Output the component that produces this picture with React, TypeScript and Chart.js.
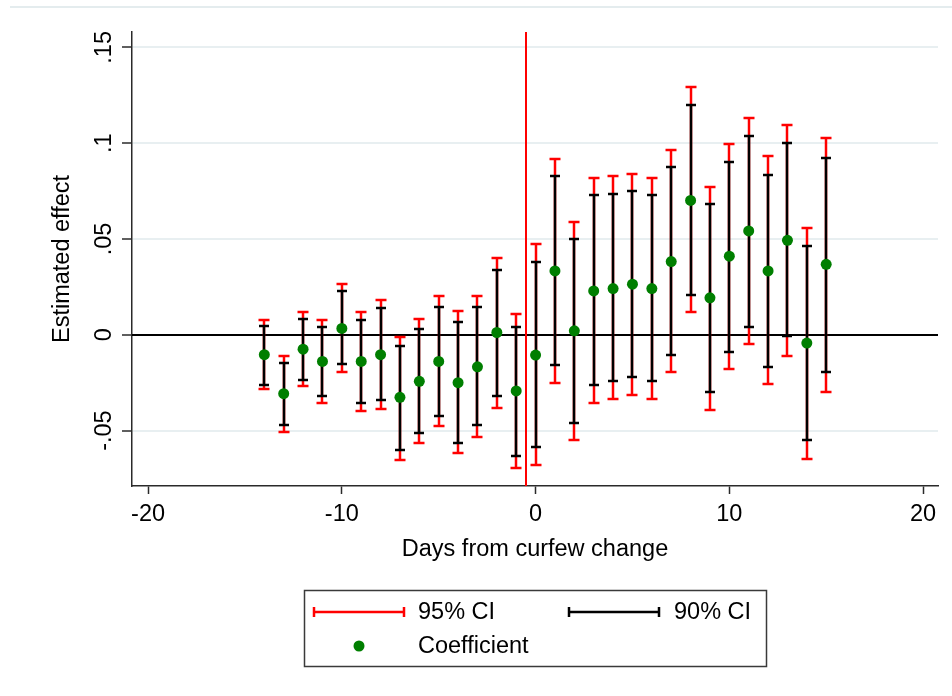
import React, { useEffect, useRef } from "react";
import { Chart, registerables } from "chart.js";

Chart.register(...registerables);

// ---------- data ----------
const days = [-14, -13, -12, -11, -10, -9, -8, -7, -6, -5, -4, -3, -2, -1, 0, 1, 2, 3, 4, 5, 6, 7, 8, 9, 10, 11, 12, 13, 14, 15];

const coef = [-0.0104, -0.0307, -0.0075, -0.0139, 0.0033, -0.0139, -0.0104, -0.0326, -0.0243, -0.0139, -0.025, -0.0167, 0.0012, -0.0293, -0.0106, 0.0333, 0.0021, 0.0229, 0.0241, 0.0264, 0.0241, 0.0382, 0.0701, 0.0193, 0.041, 0.0542, 0.0333, 0.0493, -0.0043, 0.0368];

const ci95Hi = [0.0075, -0.0113, 0.0118, 0.0075, 0.0266, 0.0118, 0.0179, -0.0009, 0.0082, 0.0201, 0.0123, 0.0201, 0.0403, 0.0109, 0.0472, 0.0917, 0.059, 0.0818, 0.0826, 0.0839, 0.0818, 0.0965, 0.1292, 0.0771, 0.0993, 0.113, 0.0931, 0.1097, 0.0556, 0.1028];

const ci90Hi = [0.0047, -0.0147, 0.0083, 0.0042, 0.0229, 0.0076, 0.0139, -0.0061, 0.0028, 0.0146, 0.0068, 0.0146, 0.0339, 0.0042, 0.0382, 0.0826, 0.05, 0.0729, 0.0736, 0.0752, 0.0729, 0.0875, 0.1201, 0.068, 0.0903, 0.1035, 0.0833, 0.1002, 0.0465, 0.0924];

const ci90Lo = [-0.026, -0.0472, -0.0236, -0.0321, -0.0155, -0.0356, -0.034, -0.0599, -0.0514, -0.0424, -0.0563, -0.0472, -0.0319, -0.0634, -0.0585, -0.016, -0.0458, -0.0264, -0.0243, -0.0222, -0.0243, -0.0106, 0.0208, -0.03, -0.009, 0.0042, -0.0167, -0.0007, -0.0549, -0.0194];

const ci95Lo = [-0.0283, -0.0507, -0.0269, -0.0356, -0.0194, -0.0398, -0.0387, -0.0653, -0.0563, -0.0477, -0.0618, -0.0533, -0.0382, -0.0696, -0.0677, -0.025, -0.0549, -0.0354, -0.0333, -0.0313, -0.0333, -0.0196, 0.0118, -0.039, -0.0181, -0.0049, -0.0257, -0.0111, -0.0646, -0.0299];

const xTickValues = [-20, -10, 0, 10, 20];
const xTickLabels = ["-20", "-10", "0", "10", "20"];
const yTickValues = [-0.05, 0, 0.05, 0.1, 0.15];
const yTickLabels = ["-.05", "0", ".05", ".1", ".15"];
const eventDay = -0.5;
const xTitle = "Days from curfew change";
const yTitle = "Estimated effect";
const legendLabels = ["95% CI", "90% CI", "Coefficient"];

// ---------- styles ----------
const FONT = '"Liberation Sans", Arial, sans-serif';
const FS = 23.5;
const AXIS = "#2a2a2a";
const GRID = "#e8eff1";
const RED = "#ff0000";
const GREEN = "#007f00";
const BAR_W = 2.5;

export default function App() {
  const ref = useRef<HTMLCanvasElement>(null);

  useEffect(() => {
    const canvas = ref.current;
    if (!canvas) return;

    const seg = (ctx: CanvasRenderingContext2D, x1: number, y1: number, x2: number, y2: number) => {
      ctx.beginPath();
      ctx.moveTo(x1, y1);
      ctx.lineTo(x2, y2);
      ctx.stroke();
    };

    const decor = {
      id: "stataDecor",
      beforeDatasetsDraw(chart: any) {
        const { ctx, chartArea: a } = chart;
        const xs = chart.scales.x;
        const ys = chart.scales.y;
        ctx.save();
        ctx.lineCap = "butt";
        // zero reference line
        const y0 = Math.round(ys.getPixelForValue(0));
        ctx.strokeStyle = "#000";
        ctx.lineWidth = 2;
        seg(ctx, a.left, y0, a.right, y0);

        const bar = (px: number, lo: number, hi: number, color: string, cap: number) => {
          const pl = Math.round(ys.getPixelForValue(lo));
          const ph = Math.round(ys.getPixelForValue(hi));
          ctx.strokeStyle = color;
          ctx.lineWidth = BAR_W;
          seg(ctx, px, pl, px, ph);
          seg(ctx, px - cap / 2, pl, px + cap / 2, pl);
          seg(ctx, px - cap / 2, ph, px + cap / 2, ph);
        };
        for (let i = 0; i < days.length; i++) {
          const px = Math.round(xs.getPixelForValue(days[i]));
          bar(px, ci95Lo[i], ci95Hi[i], RED, 11);
        }
        for (let i = 0; i < days.length; i++) {
          const px = Math.round(xs.getPixelForValue(days[i]));
          bar(px, ci90Lo[i], ci90Hi[i], "#000", 10);
        }
        // event line
        const xe = Math.round(xs.getPixelForValue(eventDay));
        ctx.strokeStyle = RED;
        ctx.lineWidth = 2;
        seg(ctx, xe, a.top, xe, a.bottom);
        ctx.restore();
      },
      afterDraw(chart: any) {
        const { ctx } = chart;
        const ys = chart.scales.y;
        ctx.save();
        // faint outer frame line at top
        ctx.strokeStyle = "#e4ecee";
        ctx.lineWidth = 2;
        seg(ctx, 10, 7, 952, 7);

        // rotated y tick labels
        ctx.fillStyle = "#000";
        ctx.font = `${FS}px ${FONT}`;
        ctx.textAlign = "center";
        ctx.textBaseline = "alphabetic";
        for (let i = 0; i < yTickValues.length; i++) {
          const py = ys.getPixelForValue(yTickValues[i]);
          ctx.save();
          ctx.translate(111, py);
          ctx.rotate(-Math.PI / 2);
          ctx.fillText(yTickLabels[i], 0, 0);
          ctx.restore();
        }

        // legend box
        ctx.strokeStyle = "#3a3a3a";
        ctx.lineWidth = 1.5;
        ctx.strokeRect(304.5, 590.5, 462, 76);

        const legBar = (x1: number, x2: number, y: number, color: string) => {
          ctx.strokeStyle = color;
          ctx.lineWidth = BAR_W;
          seg(ctx, x1, y, x2, y);
          seg(ctx, x1, y - 5, x1, y + 5);
          seg(ctx, x2, y - 5, x2, y + 5);
        };
        legBar(314, 404, 612, RED);
        legBar(569, 659, 612, "#000");
        ctx.fillStyle = GREEN;
        ctx.beginPath();
        ctx.arc(359, 646, 5.5, 0, Math.PI * 2);
        ctx.fill();

        ctx.fillStyle = "#000";
        ctx.textAlign = "left";
        ctx.textBaseline = "middle";
        ctx.fillText(legendLabels[0], 418, 613);
        ctx.fillText(legendLabels[1], 674, 613);
        ctx.fillText(legendLabels[2], 418, 647);
        ctx.restore();
      },
    };

    const chart = new Chart(canvas, {
      type: "scatter",
      data: {
        datasets: [
          {
            label: legendLabels[2],
            data: days.map((d, i) => ({ x: d, y: coef[i] })),
            pointRadius: 5.5,
            pointBackgroundColor: GREEN,
            pointBorderColor: GREEN,
            pointBorderWidth: 0,
          },
        ],
      },
      options: {
        responsive: false,
        animation: false,
        layout: { padding: { top: 32, right: 14, left: 0, bottom: 0 } },
        plugins: { legend: { display: false }, tooltip: { enabled: false } },
        scales: {
          x: {
            type: "linear",
            min: -20.83,
            max: 20.77,
            afterBuildTicks: (s: any) => {
              s.ticks = xTickValues.map((v) => ({ value: v }));
            },
            afterFit: (s: any) => {
              s.height = 210;
            },
            grid: { drawOnChartArea: false, drawTicks: true, tickLength: 8, tickColor: AXIS, tickWidth: 1.5 },
            border: { color: AXIS, width: 1.5 },
            ticks: {
              font: { family: FONT, size: FS },
              color: "#000",
              padding: 6,
              maxRotation: 0,
              autoSkip: false,
              callback: (_v: any, i: number) => xTickLabels[i],
            },
            title: {
              display: true,
              text: xTitle,
              color: "#000",
              font: { family: FONT, size: FS },
              padding: { bottom: 132 },
            },
          },
          y: {
            type: "linear",
            min: -0.0789,
            max: 0.158,
            afterBuildTicks: (s: any) => {
              s.ticks = yTickValues.map((v) => ({ value: v }));
            },
            afterFit: (s: any) => {
              s.width = 132;
            },
            grid: { color: GRID, lineWidth: 2, drawTicks: true, tickLength: 10, tickColor: AXIS, tickWidth: 1.5 },
            border: { color: AXIS, width: 1.5 },
            ticks: { display: false },
            title: {
              display: true,
              text: yTitle,
              color: "#000",
              font: { family: FONT, size: FS },
              padding: { top: 48 },
            },
          },
        },
      },
      plugins: [decor],
    } as any);

    return () => chart.destroy();
  }, []);

  return (
    <div style={{ position: "absolute", left: 0, top: 0, width: 952, height: 696, background: "#fff" }}>
      <canvas ref={ref} width={952} height={696} style={{ display: "block" }} />
    </div>
  );
}
